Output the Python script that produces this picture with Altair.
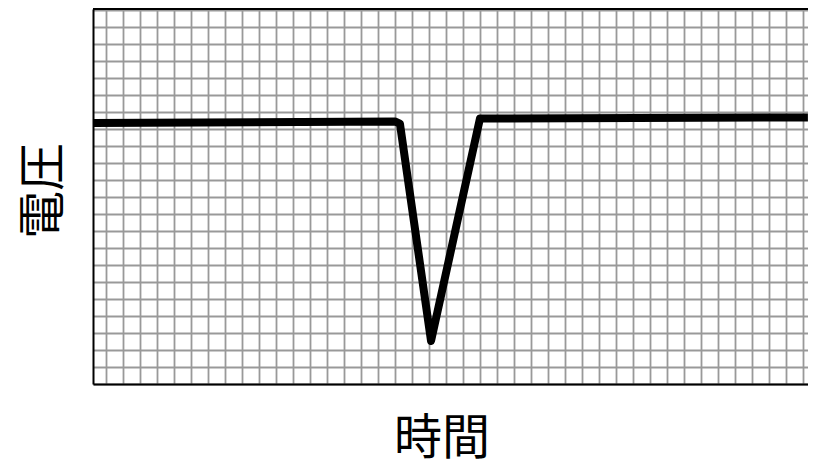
import altair as alt
import pandas as pd

# Data (grid units: one grid cell = 1 unit)
time = [-0.765, 17.0, 17.29, 19.12, 22.0, 41.29]
voltage = [15.35, 15.44, 15.32, 2.53, 15.62, 15.68]

x_grid = list(range(0, 42))
y_grid = list(range(0, 23))

X_MIN, X_MAX = -0.765, 41.295
Y_MIN, Y_MAX = 0.0, 22.06

FONT = "Noto Sans CJK JP"

df = pd.DataFrame({"time": time, "voltage": voltage})

x_scale = alt.Scale(domain=[X_MIN, X_MAX], nice=False, zero=False)
y_scale = alt.Scale(domain=[Y_MIN, Y_MAX], nice=False, zero=False)

y_axis = alt.Axis(
    title="電圧", values=y_grid, grid=True, labels=False, ticks=False,
    domain=True, domainColor="black", domainWidth=2,
    titleFont=FONT, titleFontSize=48, titleFontWeight="normal",
    titleColor="black", titleX=-49, titleY=181.5, titleAngle=-90,
    titleBaseline="middle", titleAlign="center",
)

line = alt.Chart(df).mark_line(
    color="black", strokeWidth=8, strokeJoin="round", strokeCap="butt"
).encode(
    x=alt.X("time:Q", scale=x_scale, axis=alt.Axis(
        title="時間", values=x_grid, grid=True, labels=False, ticks=False,
        domain=True, domainColor="black", domainWidth=2,
        titleFont=FONT, titleFontSize=48, titleFontWeight="normal",
        titleColor="black", titleX=348.5, titleY=55,
        titleBaseline="middle", titleAlign="center",
    )),
    y=alt.Y("voltage:Q", scale=y_scale, axis=y_axis),
    order=alt.Order("time:Q"),
)

top_border = alt.Chart(pd.DataFrame({"voltage": [Y_MAX]})).mark_rule(
    color="black", strokeWidth=2
).encode(y=alt.Y("voltage:Q", scale=y_scale, axis=y_axis))

chart = alt.layer(line, top_border).properties(
    width=715, height=375,
    autosize=alt.AutoSizeParams(type="none"),
    padding={"left": 85, "top": 1, "right": 0, "bottom": 80},
).configure_view(stroke=None).configure_axis(
    gridColor="#999999", gridWidth=1.8, gridOpacity=1
)

chart.save("out.html", embed_options={"renderer": "svg", "actions": False})
